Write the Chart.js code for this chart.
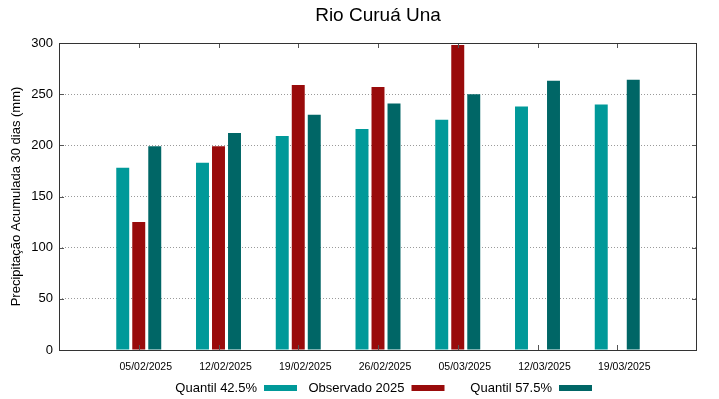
<!DOCTYPE html>
<html>
<head>
<meta charset="utf-8">
<script src="https://cdn.jsdelivr.net/npm/chart.js@4.4.1/dist/chart.umd.min.js"></script>
<style>
  html, body { margin: 0; padding: 0; background: #ffffff; }
  #wrap { width: 719px; height: 399px; }
</style>
</head>
<body>
<div id="wrap"><canvas id="c" width="719" height="399"></canvas></div>
<script>
// ---- data ----
const chartTitle = 'Rio Curuá Una';
const yAxisTitle = 'Precipitação Acumulada 30 dias (mm)';
const categories = ['05/02/2025', '12/02/2025', '19/02/2025', '26/02/2025', '05/03/2025', '12/03/2025', '19/03/2025'];
const quantil425 = [178, 183, 209, 216, 225, 238, 240];
const observado2025 = [125, 199, 259, 257, 298, null, null];
const quantil575 = [199, 212, 230, 241, 250, 263, 264];
const seriesNames = ['Quantil 42.5%', 'Observado 2025', 'Quantil 57.5%'];
const yTicks = [0, 50, 100, 150, 200, 250, 300];

const colors = ['#009999', '#990b0b', '#006666'];
const FONT = "'Liberation Sans', Arial, sans-serif";

// one empty slot of padding on each side of the categories
const labels = [''].concat(categories, ['']);
const pad = arr => [null].concat(arr, [null]);

const framePlugin = {
  id: 'frame',
  afterDatasetsDraw(chart) {
    const ctx = chart.ctx;
    const a = chart.chartArea;
    const xs = chart.scales.x, ys = chart.scales.y;
    ctx.save();
    // inward tick marks
    ctx.strokeStyle = '#555';
    ctx.lineWidth = 1;
    ctx.beginPath();
    for (let i = 1; i <= categories.length; i++) {
      const px = Math.round(xs.getPixelForTick(i)) + 0.5;
      ctx.moveTo(px, a.top); ctx.lineTo(px, a.top + 5);
      ctx.moveTo(px, a.bottom); ctx.lineTo(px, a.bottom - 5);
    }
    yTicks.forEach(v => {
      const py = Math.round(ys.getPixelForValue(v)) + 0.5;
      ctx.moveTo(a.left, py); ctx.lineTo(a.left + 5, py);
      ctx.moveTo(a.right, py); ctx.lineTo(a.right - 5, py);
    });
    ctx.stroke();
    // frame
    ctx.strokeStyle = '#333';
    ctx.lineWidth = 1;
    ctx.strokeRect(Math.round(a.left) + 0.5, Math.round(a.top) + 0.5,
                   Math.round(a.right - a.left) - 1, Math.round(a.bottom - a.top));
    ctx.restore();
  },
  afterDraw(chart) {
    const ctx = chart.ctx;
    const a = chart.chartArea;
    ctx.save();
    // title
    ctx.fillStyle = '#000';
    ctx.font = '19px ' + FONT;
    ctx.textAlign = 'center';
    ctx.textBaseline = 'middle';
    ctx.fillText(chartTitle, (a.left + a.right) / 2, 16);
    // legend: text right-aligned before the swatch
    ctx.font = '13px ' + FONT;
    ctx.textAlign = 'right';
    const ly = 388;
    chart.data.datasets.forEach((ds, i) => {
      const sx = 264 + i * 147.5;
      ctx.fillStyle = '#000';
      ctx.fillText(ds.label, sx - 7, ly);
      ctx.fillStyle = ds.backgroundColor;
      ctx.fillRect(sx, ly - 3, 33, 6);
    });
    ctx.restore();
  }
};

new Chart(document.getElementById('c'), {
  type: 'bar',
  plugins: [framePlugin],
  data: {
    labels: labels,
    datasets: [
      { label: seriesNames[0], data: pad(quantil425), backgroundColor: colors[0], borderWidth: 0 },
      { label: seriesNames[1], data: pad(observado2025), backgroundColor: colors[1], borderWidth: 0 },
      { label: seriesNames[2], data: pad(quantil575), backgroundColor: colors[2], borderWidth: 0 }
    ]
  },
  options: {
    responsive: false,
    animation: false,
    devicePixelRatio: 1,
    layout: { padding: { top: 43, right: 22, left: 0, bottom: 0 } },
    categoryPercentage: 0.602,
    barPercentage: 0.81,
    plugins: {
      legend: { display: false },
      title: { display: false },
      tooltip: { enabled: false }
    },
    scales: {
      x: {
        type: 'category',
        offset: false,
        grid: { display: false, drawTicks: false },
        border: { display: false },
        ticks: {
          autoSkip: false,
          maxRotation: 0,
          color: '#000',
          font: { family: FONT, size: 10.5 },
          padding: 11,
          labelOffset: 7
        },
        afterFit(scale) { scale.height = 49; }
      },
      y: {
        min: 0,
        max: 300,
        afterBuildTicks(scale) { scale.ticks = yTicks.map(v => ({ value: v })); },
        grid: {
          color: '#9a9a9a',
          lineWidth: 1,
          drawTicks: false
        },
        border: { display: false, dash: [1, 2] },
        ticks: {
          color: '#000',
          font: { family: FONT, size: 13 },
          padding: 6
        },
        title: {
          display: true,
          text: yAxisTitle,
          color: '#000',
          font: { family: FONT, size: 13 },
          padding: { top: 9, bottom: 0 }
        },
        afterFit(scale) { scale.width = 59; }
      }
    }
  }
});
</script>
</body>
</html>
